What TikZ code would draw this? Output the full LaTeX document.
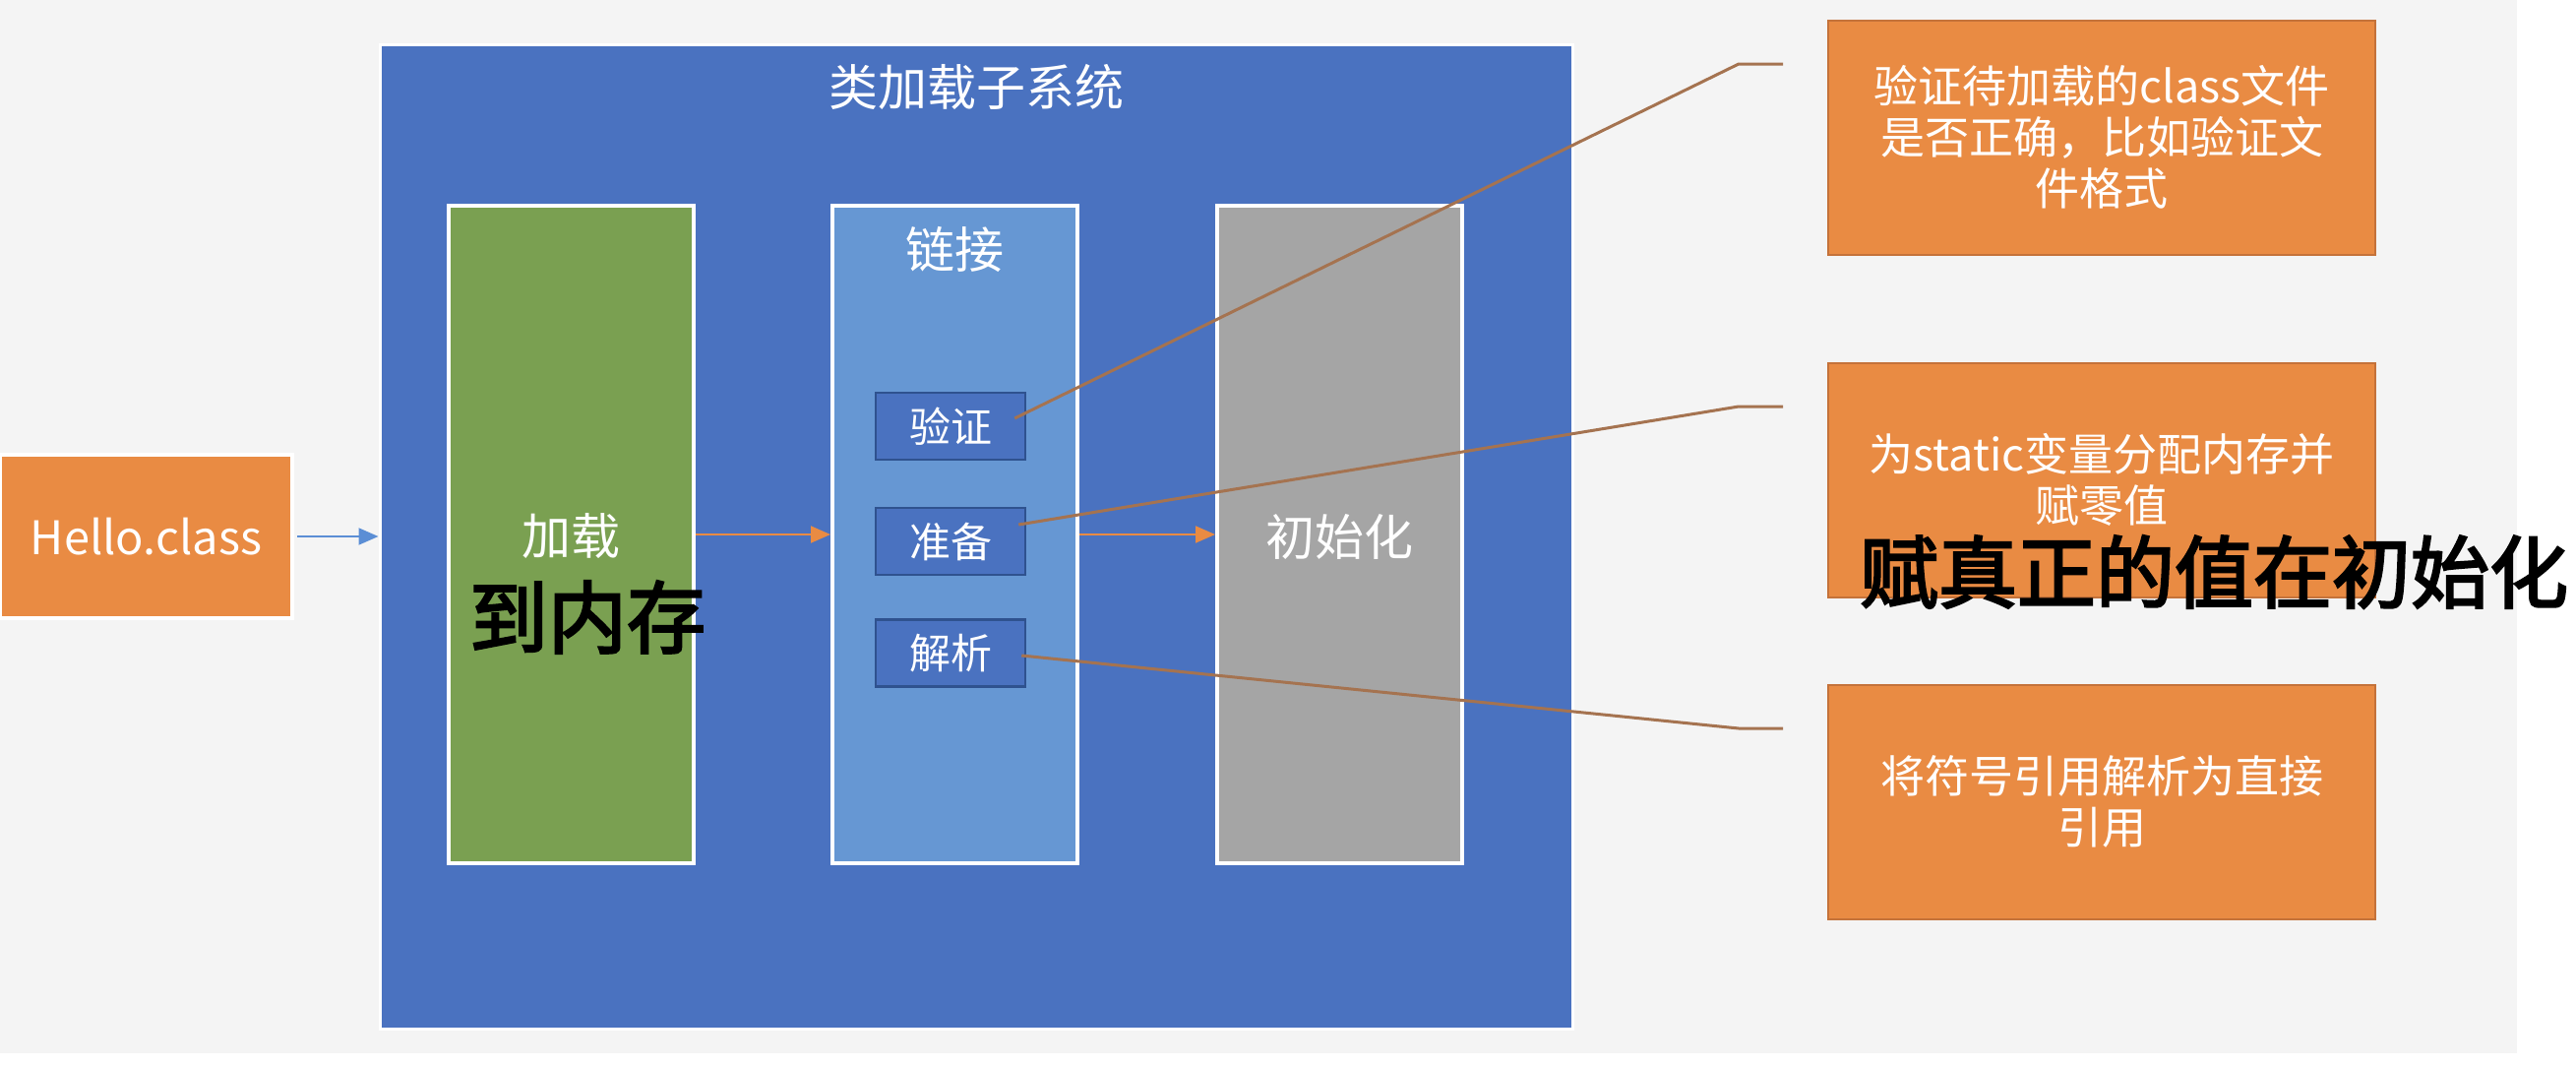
\documentclass[tikz,border=0pt]{standalone}
\usepackage{fontspec}
\setmainfont{Noto Sans CJK SC}
\newfontfamily\handfont[FakeBold=3]{Noto Sans CJK SC}
\usetikzlibrary{arrows.meta}
\definecolor{bg}{HTML}{F4F4F4}
\definecolor{sysblue}{HTML}{4A72C0}
\definecolor{subborder}{HTML}{2F528F}
\definecolor{loadgreen}{HTML}{7AA051}
\definecolor{linkblue}{HTML}{6697D3}
\definecolor{initgray}{HTML}{A5A5A5}
\definecolor{noteorange}{HTML}{E98B43}
\definecolor{orangeborder}{HTML}{C4723A}
\definecolor{arrowblue}{HTML}{5B8ED5}
\definecolor{lead}{HTML}{A57350}
\begin{document}
\begin{tikzpicture}[x=1pt,y=-1pt,
  whitebox/.style={draw=white, line width=4pt, inner sep=0pt, text=white},
  stagebox/.style={whitebox, minimum width=249pt, minimum height=668pt},
  stagelabel/.style={text=white, inner sep=0pt, font=\fontsize{50}{60}\selectfont},
  subbox/.style={draw=subborder, fill=sysblue, line width=2.5pt, inner sep=0pt,
    minimum width=152pt, minimum height=68pt, text=white, font=\fontsize{42}{50}\selectfont},
  notebox/.style={draw=orangeborder, fill=noteorange, line width=2pt, inner sep=0pt,
    minimum width=556pt, minimum height=238pt, text=white, align=center,
    font=\fontsize{45}{52}\selectfont},
  flowblue/.style={draw=arrowblue, line width=2pt, -{Triangle[length=20pt,width=17pt]}},
  floworange/.style={draw=noteorange, line width=2pt, -{Triangle[length=20pt,width=17pt]}},
  callout/.style={draw=lead, line width=3pt},
  handnote/.style={text=black, inner sep=0pt, font=\handfont\fontsize{80}{90}\selectfont}
]
\useasboundingbox (0,0) rectangle (2618,1082);
\fill[white] (0,0) rectangle (2618,1082);
\fill[bg] (0,0) rectangle (2558,1070);

% subsystem
\node[draw=white, line width=3pt, fill=sysblue, minimum width=1212pt, minimum height=1000pt, inner sep=0pt] (sys) at (992,545) {};
\node[text=white, inner sep=0pt, font=\fontsize{50}{60}\selectfont] (title) at (992,88) {类加载子系统};

% stages
\node[stagebox, fill=loadgreen] (load) at (580.5,543) {};
\node[stagebox, fill=linkblue] (link) at (970.5,543) {};
\node[stagebox, fill=initgray] (init) at (1361.5,543) {};
\node[stagelabel] (loadlbl) at (580,545) {加载};
\node[stagelabel] (linklbl) at (970,253) {链接};
\node[stagelabel] (initlbl) at (1361,545) {初始化};

% link sub steps
\node[subbox] (ver) at (966,433) {验证};
\node[subbox] (pre) at (966,550) {准备};
\node[subbox] (res) at (966,663.5) {解析};

% input
\node[draw=white, line width=4pt, fill=noteorange, minimum width=297pt, minimum height=166pt, inner sep=0pt,
  text=white, font=\fontsize{47}{56}\selectfont] (hello) at (148.5,545) {Hello.class};

% flow arrows
\draw[flowblue] ([xshift=3pt]hello.east) -- (sys.west);
\draw[floworange] (load.east) -- (link.west);
\draw[floworange] (link.east) -- (init.west);

% notes
\node[notebox] (n1) at (2136,139.5) {验证待加载的class文件\\是否正确，比如验证文\\件格式};
\node[notebox] (n2) at (2136,487.5) {为static变量分配内存并\\赋零值};
\node[notebox] (n3) at (2136,814.5) {将符号引用解析为直接\\引用};

% callout leaders
\coordinate (c1b) at (1767,65);
\coordinate (c1e) at (1812,65);
\coordinate (c2b) at (1767,413);
\coordinate (c2e) at (1812,413);
\coordinate (c3b) at (1767,740);
\coordinate (c3e) at (1812,740);
\draw[callout] ([xshift=-12pt,yshift=8pt]ver.east) -- (c1b) -- (c1e);
\draw[callout] ([xshift=-8pt,yshift=17pt]pre.east) -- (c2b) -- (c2e);
\draw[callout] ([xshift=-5pt,yshift=-2.5pt]res.east) -- (c3b) -- (c3e);

% handwritten notes
\node[handnote] (hand1) at (597,627) {到内存};
\node[handnote] (hand2) at (2250,581) {赋真正的值在初始化};
\end{tikzpicture}
\end{document}
